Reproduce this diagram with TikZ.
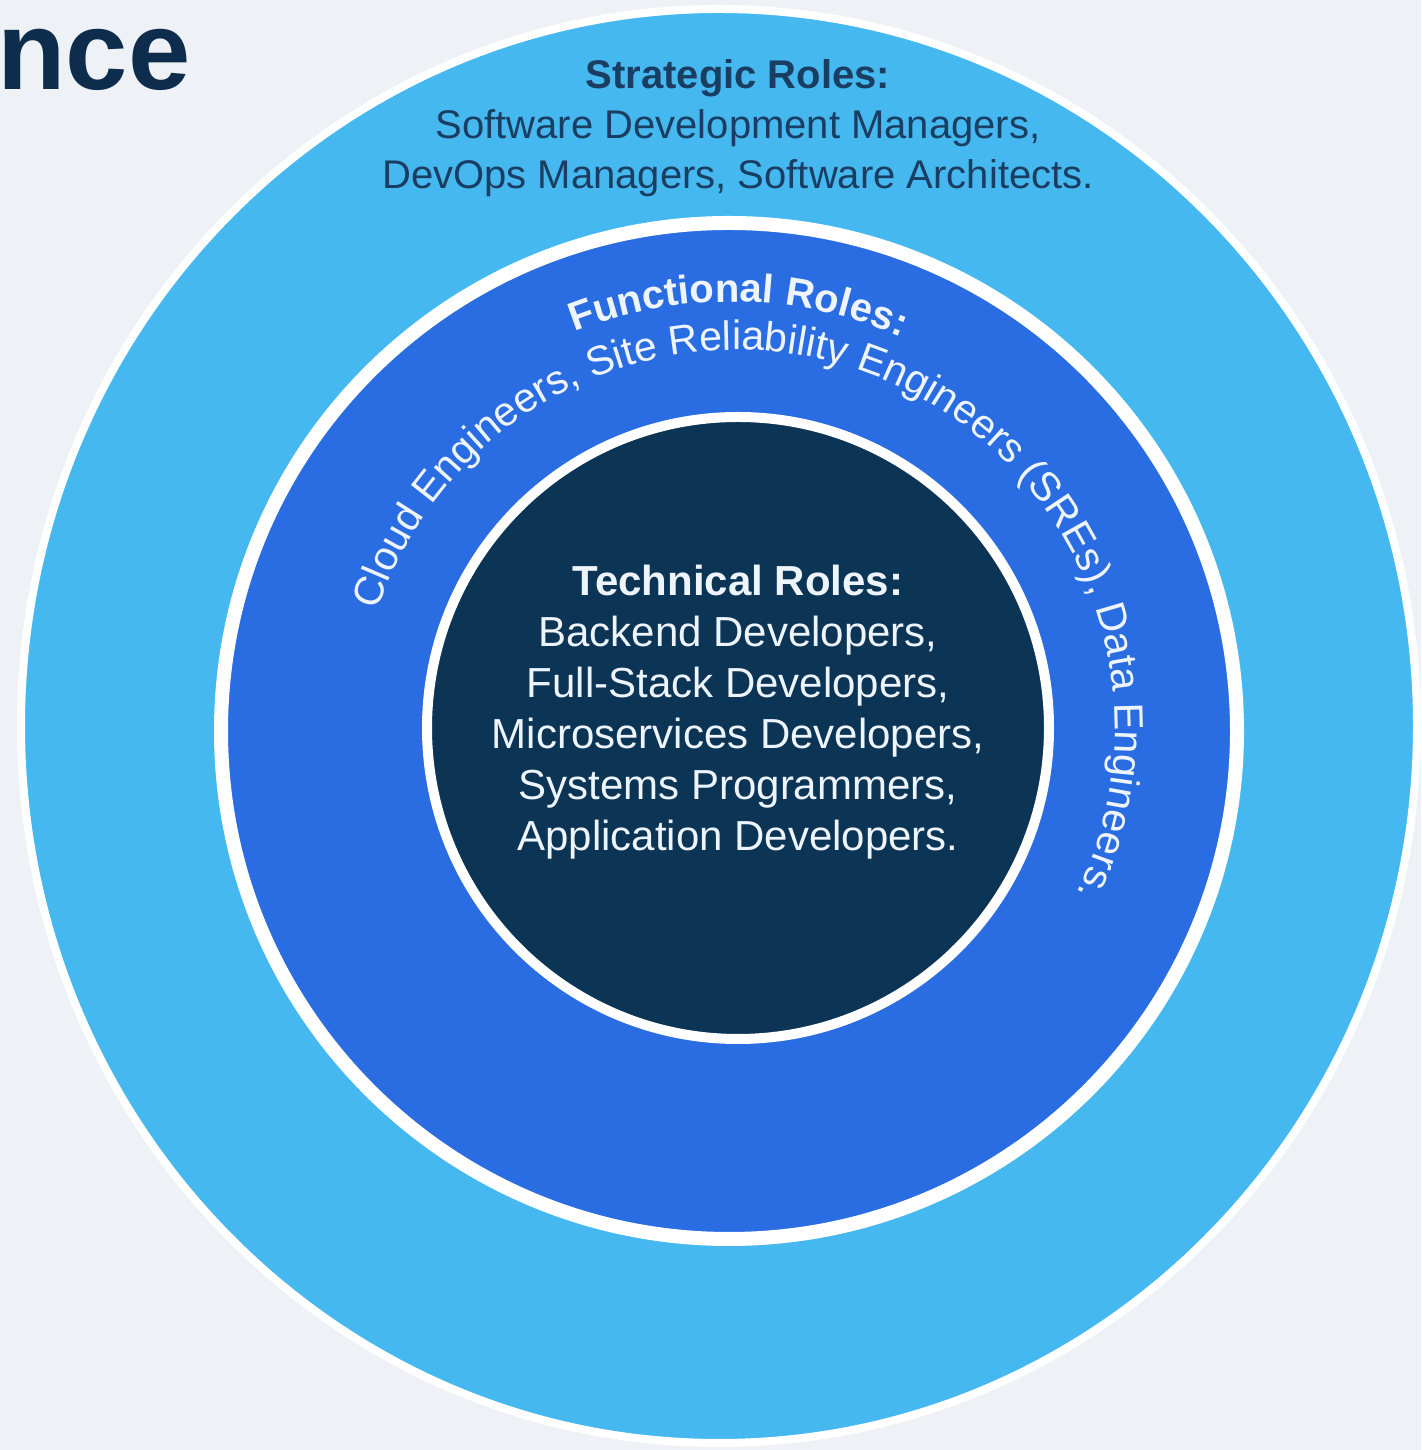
\documentclass[tikz,border=0pt]{standalone}
\usepackage{fontspec}
\setmainfont{Liberation Sans}
\usetikzlibrary{decorations.text}
\definecolor{bgcol}{HTML}{EEF1F6}
\definecolor{skyblue}{HTML}{46B8F0}
\definecolor{royalblue}{HTML}{2A6CE1}
\definecolor{navy}{HTML}{0B3455}
\definecolor{inkblue}{HTML}{1A3D62}
\definecolor{titleblue}{HTML}{0E2D4C}
\definecolor{paletext}{HTML}{EEF4FC}
\begin{document}
\begin{tikzpicture}[x=0.5pt, y=0.5pt,
  disc/.style={fill=#1, draw=white},
  roletext/.style={align=center, inner sep=0pt},
  arctext/.style={decorate, decoration={text along path, text align=center, text color=paletext, text={#1}}}
]
\fill[bgcol] (0,0) rectangle (1421,1450);
\useasboundingbox (0,0) rectangle (1421,1450);

\node[anchor=base west, inner sep=0pt, text=titleblue, font=\bfseries\fontsize{56}{60}\selectfont] (title) at (-3,1360) {nce};

\filldraw[disc=skyblue, line width=4pt] (719,724) ellipse [x radius=698, y radius=717];
\filldraw[disc=royalblue, line width=7pt] (729,719) circle [radius=508];
\filldraw[disc=navy, line width=5pt] (738,722) circle [radius=311];

\node[roletext, text=inkblue, font=\fontsize{20}{25}\selectfont] (strategic) at (738,1322)
  {\textbf{Strategic Roles:}\\Software Development Managers,\\DevOps Managers, Software Architects.};

\path[arctext={|\bfseries\fontsize{20}{24}\selectfont|Functional Roles:}]
  (731,719) ++(150:429) arc[start angle=150, end angle=28, radius=429];
\path[arctext={|\fontsize{20.5}{24}\selectfont|Cloud Engineers, Site Reliability Engineers (SREs), Data Engineers.}]
  (737,722) ++(175:378) arc[start angle=175, end angle=-39, radius=378];

\node[roletext, text=paletext, font=\fontsize{21}{25.5}\selectfont] (technical) at (738,738)
  {\textbf{Technical Roles:}\\Backend Developers,\\Full-Stack Developers,\\Microservices Developers,\\Systems Programmers,\\Application Developers.};
\end{tikzpicture}
\end{document}
